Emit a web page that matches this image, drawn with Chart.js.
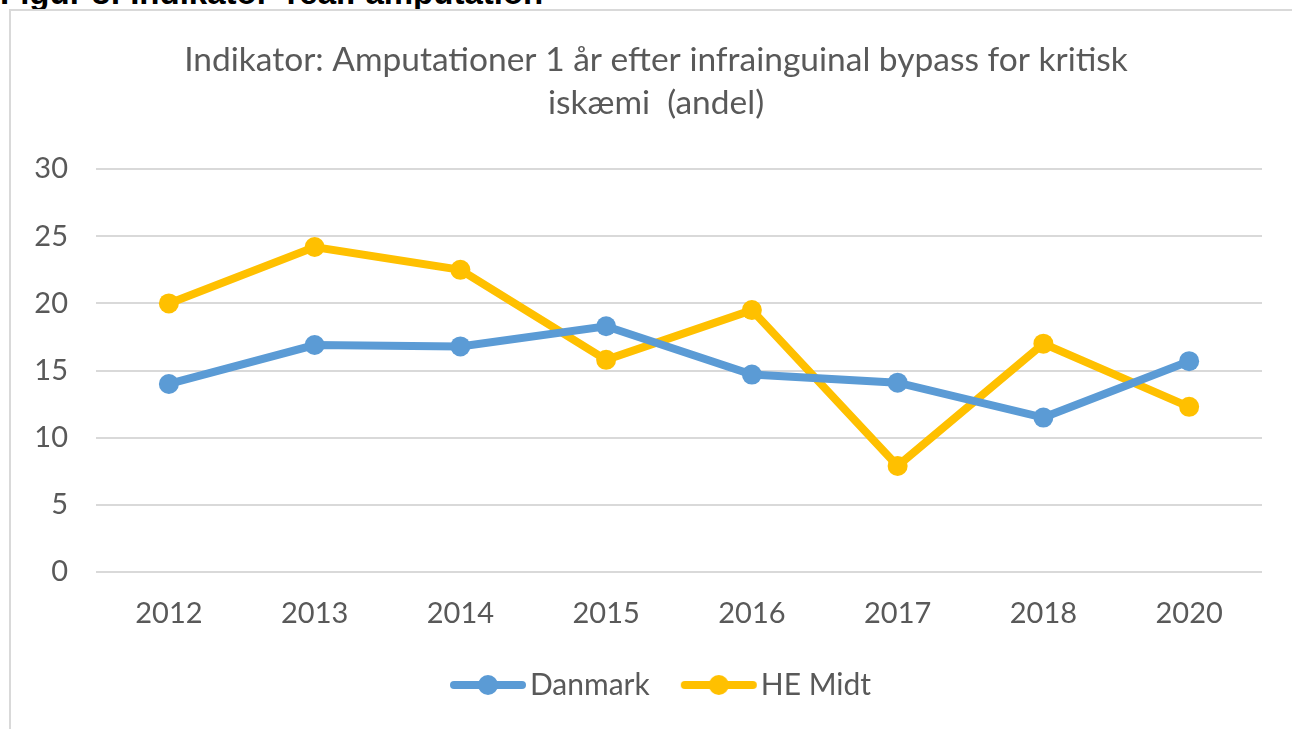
<!DOCTYPE html>
<html>
<head>
<meta charset="utf-8">
<script src="https://cdn.jsdelivr.net/npm/chart.js@4.4.1/dist/chart.umd.min.js"></script>
<style>
  html, body { margin: 0; padding: 0; background: #ffffff; width: 1292px; height: 729px; overflow: hidden; }
  #hdr { position: absolute; left: 0; top: -24px; line-height: 1; font-family: "Liberation Sans", Arial, sans-serif; font-weight: bold; font-size: 33px; color: #000; white-space: nowrap; }
  #frame { position: absolute; left: 9px; top: 9px; width: 1400px; height: 800px; border: 2px solid #d9d9d9; box-sizing: border-box; }
  #wrap { position: absolute; left: 0; top: 0; width: 1292px; height: 729px; }
</style>
</head>
<body>
<div id="hdr">Figur 8: Indikator 'real: amputation'</div>
<div id="frame"></div>
<div id="wrap"><canvas id="c" width="1292" height="729"></canvas></div>
<script>
const categories = ["2012", "2013", "2014", "2015", "2016", "2017", "2018", "2020"];
const danmark = [14.0, 16.9, 16.8, 18.3, 14.7, 14.1, 11.5, 15.7];
const heMidt  = [20.0, 24.2, 22.5, 15.8, 19.5, 7.9, 17.0, 12.3];
const seriesNames = ["Danmark", "HE Midt"];
const titleLines = ["Indikator: Amputationer 1 år efter infrainguinal bypass for kritisk", "iskæmi  (andel)"];
const yMin = 0, yMax = 30, yStep = 5;

const BLUE = "#5B9BD5";
const GOLD = "#FFC000";
const TEXT = "#595959";
const FONT = "Lato, 'Open Sans', sans-serif";

function legendIcon(color) {
  const W = 88, H = 24;
  const cv = document.createElement("canvas");
  cv.width = W; cv.height = H;
  const g = cv.getContext("2d");
  g.strokeStyle = color; g.lineWidth = 8; g.lineCap = "round";
  g.beginPath(); g.moveTo(8, H / 2); g.lineTo(76, H / 2); g.stroke();
  g.fillStyle = color;
  g.beginPath(); g.arc(42, H / 2, 10, 0, Math.PI * 2); g.fill();
  return cv;
}
const icons = [legendIcon(BLUE), legendIcon(GOLD)];

// The original chart frame is wider than the visible window, so its title and
// legend are centred a little to the right of the canvas centre.
const centreShift = {
  id: "centreShift",
  afterLayout(chart) {
    const t = chart.titleBlock; if (t) { t.left += 25; t.right += 25; }
    const l = chart.legend; if (l) { l.left += 37; l.right += 37; }
  }
};

new Chart(document.getElementById("c"), {
  type: "line",
  data: {
    labels: categories,
    datasets: [
      { label: seriesNames[0], data: danmark, borderColor: BLUE, backgroundColor: BLUE,
        borderWidth: 8, pointRadius: 10, pointBorderWidth: 0, pointBackgroundColor: BLUE, tension: 0 },
      { label: seriesNames[1], data: heMidt, borderColor: GOLD, backgroundColor: GOLD,
        borderWidth: 8, pointRadius: 10, pointBorderWidth: 0, pointBackgroundColor: GOLD, tension: 0 }
    ]
  },
  plugins: [centreShift],
  options: {
    responsive: false,
    animation: false,
    layout: { padding: { left: 0, right: 30, top: 0, bottom: 19 } },
    plugins: {
      tooltip: { enabled: false },
      title: {
        display: true,
        text: titleLines,
        color: TEXT,
        font: { family: FONT, size: 33.5, weight: "normal", lineHeight: 1.3 },
        padding: { top: 38, bottom: 44 }
      },
      legend: {
        position: "bottom",
        labels: {
          usePointStyle: true,
          pointStyleWidth: 50,
          boxHeight: 24,
          padding: 46,
          color: TEXT,
          font: { family: FONT, size: 30, lineHeight: 1.0 },
          generateLabels: (chart) => chart.data.datasets.map((ds, i) => ({
            text: ds.label, pointStyle: icons[i], fillStyle: ds.borderColor,
            strokeStyle: ds.borderColor, lineWidth: 0, datasetIndex: i, hidden: false, fontColor: TEXT
          }))
        }
      }
    },
    scales: {
      x: {
        offset: true,
        afterFit: (s) => { s.height = 52; },
        grid: { display: false },
        border: { display: false },
        ticks: { color: TEXT, font: { family: FONT, size: 29 }, padding: 16 }
      },
      y: {
        min: yMin, max: yMax,
        afterFit: (s) => { s.width = 96; },
        grid: { color: "#d9d9d9", lineWidth: 2, drawTicks: false },
        border: { display: false },
        ticks: { stepSize: yStep, color: TEXT, font: { family: FONT, size: 29 }, padding: 28 }
      }
    }
  }
});
</script>
</body>
</html>
